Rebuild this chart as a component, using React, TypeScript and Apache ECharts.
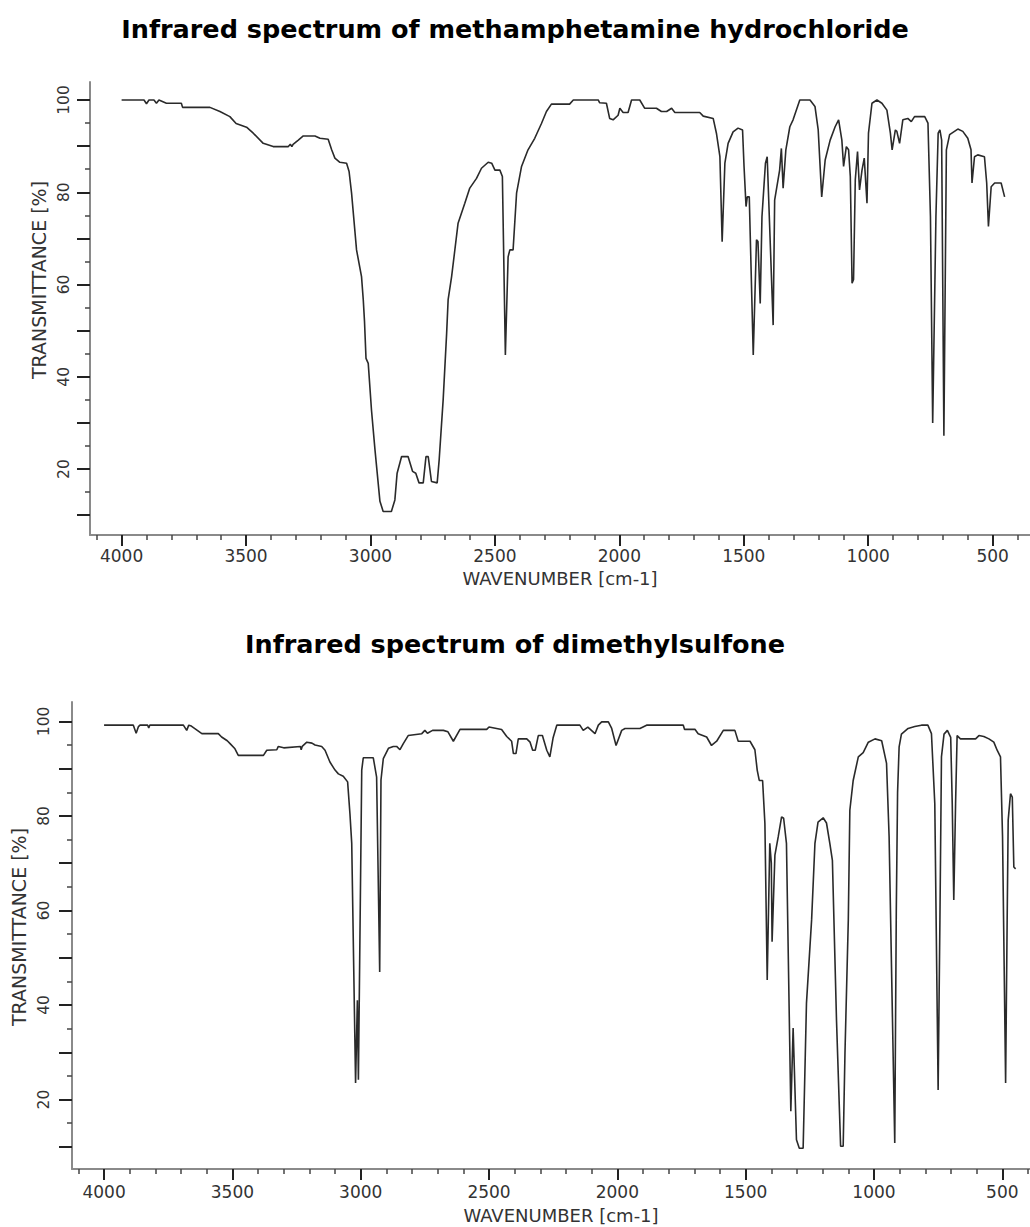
import React, { useEffect, useRef } from 'react';
import * as echarts from 'echarts';

// ---- Titles ----
const chartTitles = [
  'Infrared spectrum of methamphetamine hydrochloride',
  'Infrared spectrum of dimethylsulfone',
];
const xAxisName = 'WAVENUMBER [cm-1]';
const yAxisName = 'TRANSMITTANCE [%]';

// ---- Tick values ----
const xMajorTicks = [500, 1000, 1500, 2000, 2500, 3000, 3500, 4000];
const xMinorTicks = [400, 600, 700, 800, 900, 1100, 1200, 1300, 1400, 1600, 1700, 1800, 1900, 2100, 2200, 2300, 2400, 2600, 2700, 2800, 2900, 3100, 3200, 3300, 3400, 3600, 3700, 3800, 3900, 4100];
const yMajorTicks = [10, 20, 30, 40, 50, 60, 70, 80, 90, 100];
const yMinorTicks = [15, 25, 35, 45, 55, 65, 75, 85, 95];
const yLabelValues = [20, 40, 60, 80, 100];

// ---- Methamphetamine hydrochloride spectrum ----
const methWavenumber = [
  4000, 3910, 3900, 3890, 3870, 3860, 3850, 3820, 3760, 3755, 3645, 3605, 3565, 3540, 3498, 3471, 3431, 3391, 3330, 3322,
  3316, 3311, 3290, 3270, 3223, 3203, 3170, 3156, 3143, 3123, 3096, 3086, 3076, 3056, 3036, 3029, 3024, 3018, 3009, 2996,
  2982, 2962, 2949, 2916, 2902, 2893, 2875, 2849, 2831, 2818, 2805, 2788, 2777, 2768, 2755, 2732, 2724, 2708, 2694, 2688,
  2674, 2648, 2621, 2601, 2574, 2554, 2527, 2513, 2500, 2480, 2470, 2458, 2447, 2440, 2427, 2413, 2393, 2367, 2340, 2313,
  2293, 2273, 2200, 2185, 2085, 2079, 2052, 2039, 2025, 2005, 1998, 1985, 1965, 1951, 1918, 1898, 1851, 1831, 1810, 1790,
  1777, 1677, 1663, 1623, 1610, 1596, 1587, 1576, 1563, 1543, 1523, 1505, 1499, 1491, 1486, 1478, 1462, 1449, 1443, 1434,
  1427, 1413, 1406, 1382, 1376, 1356, 1349, 1342, 1331, 1315, 1302, 1275, 1234, 1214, 1201, 1187, 1173, 1153, 1133, 1119,
  1106, 1099, 1088, 1079, 1072, 1065, 1059, 1052, 1043, 1035, 1025, 1016, 1005, 999, 985, 965, 945, 925, 911, 904,
  891, 885, 874, 861, 841, 827, 814, 773, 760, 750, 741, 728, 719, 712, 705, 696, 686, 673, 640, 620,
  600, 587, 583, 573, 560, 533, 524, 517, 506, 492, 466, 452,
];
const methTransmittance = [
  100, 100, 99.2, 100, 100, 99.3, 100, 99.3, 99.3, 98.4, 98.4, 97.5, 96.4, 94.9, 94.1, 92.8, 90.6, 89.9, 89.9, 90.4,
  89.9, 90.4, 91.3, 92.2, 92.2, 91.7, 91.5, 89.2, 87.4, 86.5, 86.3, 84.5, 79.8, 67.5, 61.7, 56.7, 52, 44.0, 42.9, 32.8,
  24.2, 13.0, 10.8, 10.8, 13.3, 19.1, 22.7, 22.7, 19.5, 19.1, 17.0, 17.0, 22.7, 22.7, 17.3, 17.0, 22.0, 35.0, 49.4, 56.7,
  61.7, 73.3, 77.6, 80.9, 83.0, 85.2, 86.5, 86.3, 84.8, 84.8, 83.4, 44.7, 66.0, 67.5, 67.5, 79.8, 85.6, 89.2, 91.7, 94.9,
  97.5, 99.1, 99.1, 100, 100, 99.4, 99.3, 96.0, 95.7, 96.7, 98.2, 97.3, 97.3, 100, 100, 98.2, 98.2, 97.5, 97.5, 98.2,
  97.3, 97.3, 96.5, 96.0, 92.8, 87.7, 69.3, 86.3, 90.6, 93.1, 93.9, 93.5, 85.6, 76.9, 79.0, 79.0, 44.7, 69.7, 69.3, 55.9,
  74.7, 86.3, 87.7, 51.2, 78.3, 84.8, 89.5, 80.9, 89.2, 94.2, 95.7, 100, 100, 98.6, 93.5, 79.0, 87.0, 91.3, 94.2, 95.7,
  91.3, 85.6, 89.9, 89.2, 83.4, 60.3, 61.1, 82.7, 88.8, 80.5, 84.8, 87.4, 77.6, 92.8, 99.3, 100, 99.3, 97.8, 92.8, 89.2,
  93.5, 93.2, 90.6, 95.7, 96.0, 95.3, 96.4, 96.4, 95.0, 74.7, 30.0, 74.7, 92.8, 93.5, 91.3, 27.2, 89.2, 92.5, 93.7, 93.2,
  91.7, 89.2, 82.0, 87.7, 88.1, 87.7, 82.0, 72.6, 81.2, 82.0, 82.0, 79.0,
];

// ---- Dimethylsulfone spectrum ----
const dmsWavenumber = [
  4000, 3886, 3875, 3866, 3860, 3830, 3826, 3822, 3691, 3678, 3670, 3660, 3619, 3555, 3542, 3520, 3509, 3490, 3477, 3379,
  3366, 3327, 3321, 3300, 3235, 3232, 3228, 3210, 3190, 3178, 3152, 3139, 3120, 3100, 3087, 3068, 3051, 3042, 3035, 3020,
  3013, 3009, 2996, 2990, 2951, 2938, 2926, 2921, 2912, 2892, 2873, 2860, 2847, 2834, 2815, 2762, 2750, 2740, 2720, 2678,
  2660, 2639, 2613, 2509, 2500, 2451, 2431, 2412, 2405, 2395, 2386, 2353, 2340, 2330, 2320, 2308, 2292, 2275, 2263, 2250,
  2236, 2146, 2133, 2115, 2087, 2074, 2061, 2035, 2022, 2005, 1983, 1970, 1912, 1886, 1743, 1738, 1697, 1685, 1652, 1633,
  1613, 1587, 1542, 1529, 1483, 1464, 1455, 1447, 1434, 1425, 1416, 1406, 1400, 1397, 1386, 1373, 1360, 1352, 1341, 1324,
  1315, 1302, 1291, 1276, 1263, 1243, 1230, 1218, 1198, 1185, 1172, 1162, 1146, 1130, 1120, 1113, 1100, 1094, 1081, 1061,
  1042, 1022, 996, 970, 951, 941, 919, 913, 908, 902, 893, 867, 841, 815, 790, 776, 763, 750, 743, 737,
  727, 714, 701, 695, 689, 682, 676, 663, 604, 591, 572, 552, 533, 520, 507, 499, 487, 481, 477, 468,
  461, 455, 448,
];
const dmsTransmittance = [
  99.2, 99.2, 97.5, 98.9, 99.2, 99.2, 98.6, 99.2, 99.2, 98.1, 99.2, 99.0, 97.4, 97.4, 96.7, 95.9, 95.3, 94.2, 92.8, 92.8,
  93.9, 94.0, 94.7, 94.4, 94.7, 94.0, 94.7, 95.6, 95.4, 95.0, 94.7, 93.9, 91.4, 89.7, 88.9, 88.4, 87.2, 80.5, 74.2, 23.5,
  41.0, 24.2, 89.7, 92.3, 92.3, 88.2, 47.0, 87.6, 92.1, 94.3, 94.7, 94.7, 94.0, 95.3, 97.0, 97.4, 98.1, 97.5, 98.1, 98.1,
  97.8, 95.8, 98.3, 98.3, 98.8, 98.3, 96.8, 95.8, 93.2, 93.2, 96.3, 96.3, 95.6, 93.9, 93.9, 97.0, 97.0, 93.9, 92.5, 96.6,
  99.2, 99.2, 98.1, 98.8, 97.4, 99.2, 99.9, 99.9, 98.5, 94.9, 98.1, 98.5, 98.5, 99.2, 99.2, 98.3, 98.3, 97.4, 96.7, 94.9,
  95.8, 98.1, 98.1, 95.8, 95.8, 94.0, 89.7, 87.5, 87.5, 78.4, 45.3, 74.2, 70.0, 53.4, 71.7, 75.6, 79.8, 79.5, 74.2, 17.5,
  35.1, 11.5, 9.7, 9.7, 40.4, 58.0, 74.2, 78.7, 79.6, 78.5, 74.2, 70.6, 36.8, 10.1, 10.1, 29.8, 58.0, 81.2, 87.5, 92.5,
  93.4, 95.6, 96.3, 95.9, 91.1, 75.6, 10.8, 60.0, 85.0, 94.6, 97.3, 98.5, 98.9, 99.2, 99.2, 97.4, 82.6, 22.0, 58.0, 92.5,
  97.3, 98.1, 96.6, 82.6, 62.2, 82.6, 97.0, 96.3, 96.3, 97.0, 96.8, 96.3, 95.6, 93.9, 92.5, 75.6, 23.5, 58.0, 79.1, 84.7,
  84.0, 69.2, 68.8,
];

const FONT = 'DejaVu Sans';
const TEXT = '#333333';

function zip(xs: number[], ys: number[]) {
  return xs.map((x, i) => [x, ys[i]]);
}

type Panel = {
  left: number; top: number; height: number;
  xMin: number; xMax: number; yMin: number; yMax: number;
  xLabelMargin: number; xNameGap: number; xNameShift: number; yLabelMargin: number;
};

const panels: Panel[] = [
  { left: 90, top: 82, height: 453, xMin: 350, xMax: 4127, yMin: 5.7, yMax: 103.9, xLabelMargin: 12, xNameGap: 34, xNameShift: 0, yLabelMargin: 18 },
  { left: 72, top: 702, height: 467, xMin: 392, xMax: 4125, yMin: 5.3, yMax: 104.1, xLabelMargin: 14, xNameGap: 37, xNameShift: 20, yLabelMargin: 20 },
];

const plain = (v: number) => String(Math.round(v));

export default function App() {
  const ref = useRef<HTMLDivElement>(null);
  useEffect(() => {
    if (!ref.current) return;
    const chart = echarts.init(ref.current, undefined, { renderer: 'svg' });
    const grids: any[] = [];
    const xAxes: any[] = [];
    const yAxes: any[] = [];
    panels.forEach((p, gi) => {
      grids.push({ left: p.left, right: 0, top: p.top, height: p.height, containLabel: false });
      const xBase = {
        type: 'value', gridIndex: gi, inverse: true, min: p.xMin, max: p.xMax, position: 'bottom',
        splitLine: { show: false },
      };
      xAxes.push({
        ...xBase,
        axisLine: { show: true, onZero: false, lineStyle: { color: '#8a8a8a', width: 2 } },
        axisTick: { show: true, inside: false, length: 11, customValues: xMajorTicks, lineStyle: { color: '#222', width: 2 } },
        axisLabel: { customValues: xMajorTicks, formatter: plain, margin: p.xLabelMargin, fontSize: 17, color: TEXT, fontFamily: FONT },
        name: xAxisName, nameLocation: 'middle', nameGap: p.xNameGap,
        nameTextStyle: { fontSize: 18, color: TEXT, fontFamily: FONT, padding: [0, 0, 0, p.xNameShift] },
      });
      xAxes.push({
        ...xBase,
        axisLine: { show: false, onZero: false },
        axisTick: { show: true, inside: false, length: 5, customValues: xMinorTicks, lineStyle: { color: '#444', width: 1.5 } },
        axisLabel: { show: false },
      });
      const yBase = { type: 'value', gridIndex: gi, min: p.yMin, max: p.yMax, position: 'left', splitLine: { show: false } };
      yAxes.push({
        ...yBase,
        axisLine: { show: true, onZero: false, lineStyle: { color: '#8a8a8a', width: 2 } },
        axisTick: { show: true, inside: false, length: 13, customValues: yMajorTicks, lineStyle: { color: '#222', width: 2 } },
        axisLabel: { customValues: yLabelValues, formatter: plain, rotate: 90, margin: p.yLabelMargin, fontSize: 15.5, color: TEXT, fontFamily: FONT },
      });
      yAxes.push({
        ...yBase,
        axisLine: { show: false, onZero: false },
        axisTick: { show: true, inside: false, length: 5, customValues: yMinorTicks, lineStyle: { color: '#444', width: 1.5 } },
        axisLabel: { show: false },
      });
    });

    const lineStyle = { color: '#2a2a2a', width: 1.6 };
    const titleStyle = { fontSize: 25.5, fontWeight: 'bold', fontFamily: FONT, color: '#000' };
    chart.setOption({
      animation: false,
      backgroundColor: '#ffffff',
      title: [
        { text: chartTitles[0], left: 'center', top: 16, padding: 0, textStyle: titleStyle },
        { text: chartTitles[1], left: 'center', top: 631, padding: 0, textStyle: titleStyle },
      ],
      grid: grids,
      xAxis: xAxes,
      yAxis: yAxes,
      graphic: [
        { type: 'text', x: 39, y: 280, rotation: Math.PI / 2, style: { text: yAxisName, fontSize: 19, fill: TEXT, fontFamily: FONT, align: 'center', verticalAlign: 'middle' } },
        { type: 'text', x: 19, y: 927, rotation: Math.PI / 2, style: { text: yAxisName, fontSize: 19, fill: TEXT, fontFamily: FONT, align: 'center', verticalAlign: 'middle' } },
      ],
      series: [
        { name: 'methamphetamine hydrochloride', type: 'line', xAxisIndex: 0, yAxisIndex: 0, data: zip(methWavenumber, methTransmittance), showSymbol: false, symbol: 'none', lineStyle, silent: true },
        { name: 'dimethylsulfone', type: 'line', xAxisIndex: 2, yAxisIndex: 2, data: zip(dmsWavenumber, dmsTransmittance), showSymbol: false, symbol: 'none', lineStyle, silent: true },
      ],
    });
    return () => chart.dispose();
  }, []);
  return <div ref={ref} style={{ position: 'absolute', left: 0, top: 0, width: 1030, height: 1227 }} />;
}
